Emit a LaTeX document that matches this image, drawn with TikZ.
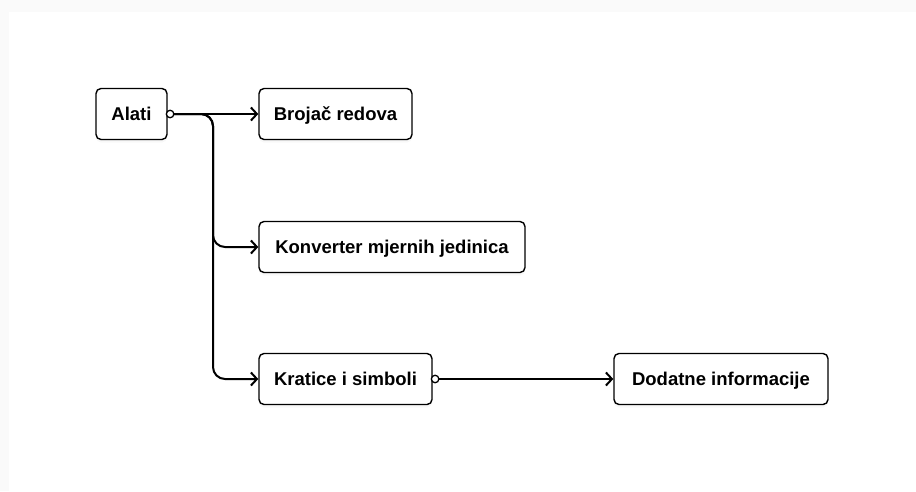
\documentclass[tikz,border=0pt]{standalone}
\usepackage{fontspec}
\setmainfont{Liberation Sans}
\usepackage{tikz}
\usetikzlibrary{arrows.meta}
\usetikzlibrary{shadows}
\tikzset{
    tool_box/.style = {draw=black, fill=white, rounded corners=5pt, line width=1.4pt,
        minimum height=51pt, inner sep=0pt, align=center, text height=13pt, text depth=0pt,
        font=\fontsize{18.5}{22}\selectfont\bfseries,
        drop shadow={opacity=0.05, shadow xshift=0pt, shadow yshift=-3pt}},
    port_dot/.style = {circle, draw=black, fill=white, line width=1.3pt, minimum size=7.5pt, inner sep=0pt},
    link/.style = {draw=black, line width=2pt, rounded corners=12pt, -{Straight Barb[length=6pt, width=13pt, line width=2pt]}}
}
\begin{document}
\begin{tikzpicture}[x=1pt, y=-1pt]
    \useasboundingbox (0,0) rectangle (916,491);
    \fill[black!2] (0,0) rectangle (916,491);
    \fill[white] (9,12) rectangle (916,491);
    % boxes
    \node [tool_box, minimum width=71pt] (alati) at (131.5,114) {Alati};
    \node [tool_box, minimum width=153pt] (brojac) at (335.5,114) {Brojač redova};
    \node [tool_box, minimum width=266pt] (konverter) at (392,247) {Konverter mjernih jedinica};
    \node [tool_box, minimum width=173pt] (kratice) at (345.5,379) {Kratice i simboli};
    \node [tool_box, minimum width=214pt] (dodatne) at (721,379) {Dodatne informacije};
    % trunk
    \coordinate (trunk) at (213,114);
    % links
    \draw [link] (alati.east) -- (brojac.west);
    \draw [link] (alati.east) -- (trunk) |- (konverter.west);
    \draw [link] (alati.east) -- (trunk) |- (kratice.west);
    \draw [link] (kratice.east) -- (dodatne.west);
    % ports
    \node [port_dot, anchor=west] (alati_port) at ([xshift=-2pt]alati.east) {};
    \node [port_dot, anchor=west] (kratice_port) at ([xshift=-2pt]kratice.east) {};
\end{tikzpicture}
\end{document}
